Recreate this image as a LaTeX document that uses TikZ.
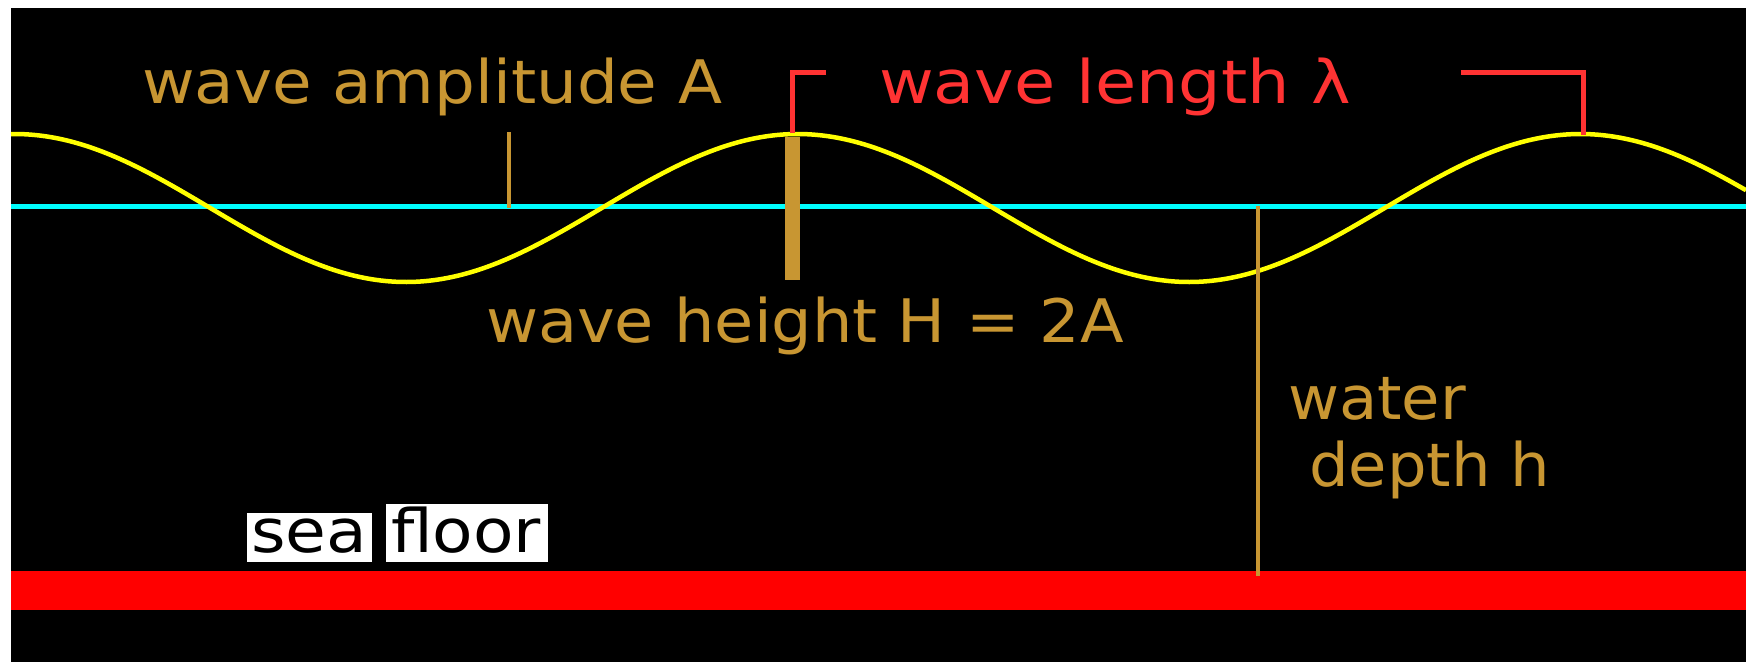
\documentclass[tikz,border=0pt]{standalone}
\usepackage{fontspec}
\setmainfont{DejaVu Sans}
\usepackage{graphicx}
\definecolor{wtan}{RGB}{200,150,50}
\definecolor{wred}{RGB}{255,51,51}
\definecolor{wyellow}{RGB}{255,255,0}
\definecolor{wcyan}{RGB}{0,255,255}
\definecolor{floorred}{RGB}{255,0,0}
\newcommand{\fitw}[2]{\resizebox{#1}{\height}{\fontsize{60}{62}\selectfont #2}}
\tikzset{
  lbl/.style={inner sep=0pt, outer sep=0pt, anchor=base west},
  tanline/.style={draw=wtan, line width=4pt},
  bracketline/.style={draw=wred, line width=5pt},
  waveline/.style={draw=wyellow, line width=4.5pt},
}
\begin{document}
\begin{tikzpicture}[x=1pt,y=-1pt]
\fill[white] (0,0) rectangle (1746,662);
\useasboundingbox (0,0) rectangle (1746,662);
\fill[black] (11,8) rectangle (1746,662);
% sea floor band
\fill[floorred] (11,571) rectangle (1746,610);
% still water level
\draw[draw=wcyan, line width=5pt] (11,206) -- (1746,206);
% wave
\draw[waveline] plot[domain=11:1746, samples=400] (\x, {208-74*cos((\x-797.5)/783*360)});
% coordinates
\coordinate (crestA) at (792,133);
\coordinate (crestB) at (1583,135);
\coordinate (ampTop) at (509,132);
\coordinate (ampBot) at (509,208);
\coordinate (depthTop) at (1258,206);
\coordinate (depthBot) at (1258,576);
% amplitude marker
\draw[tanline] (ampTop) -- (ampBot);
% wave height bar
\fill[wtan] (784.5,137) rectangle (800,280);
% water depth
\draw[tanline] (depthTop) -- (depthBot);
% wave length brackets
\draw[bracketline] (826,72) -| (crestA);
\draw[bracketline] (1461,72) -| (crestB);
% labels
\node[lbl, text=wtan] (amp) at (142,103) {\fitw{580pt}{wave amplitude A}};
\node[lbl, text=wred] (len) at (879,103) {\fitw{472pt}{wave length λ}};
\node[lbl, text=wtan] (hgt) at (486,342) {\fitw{638pt}{wave height H = 2A}};
\node[lbl, text=wtan] (wat) at (1288,419) {\fitw{178pt}{water}};
\node[lbl, text=wtan] (dep) at (1309,486) {\fitw{241pt}{depth h}};
% sea floor label on white patches
\fill[white] (247,513) rectangle (372,562);
\fill[white] (386,504) rectangle (548,562);
\node[lbl, text=black] (sea) at (251,552) {\fitw{116pt}{sea}};
\node[lbl, text=black] (floor) at (391,552) {\fitw{150pt}{floor}};
\end{tikzpicture}
\end{document}
